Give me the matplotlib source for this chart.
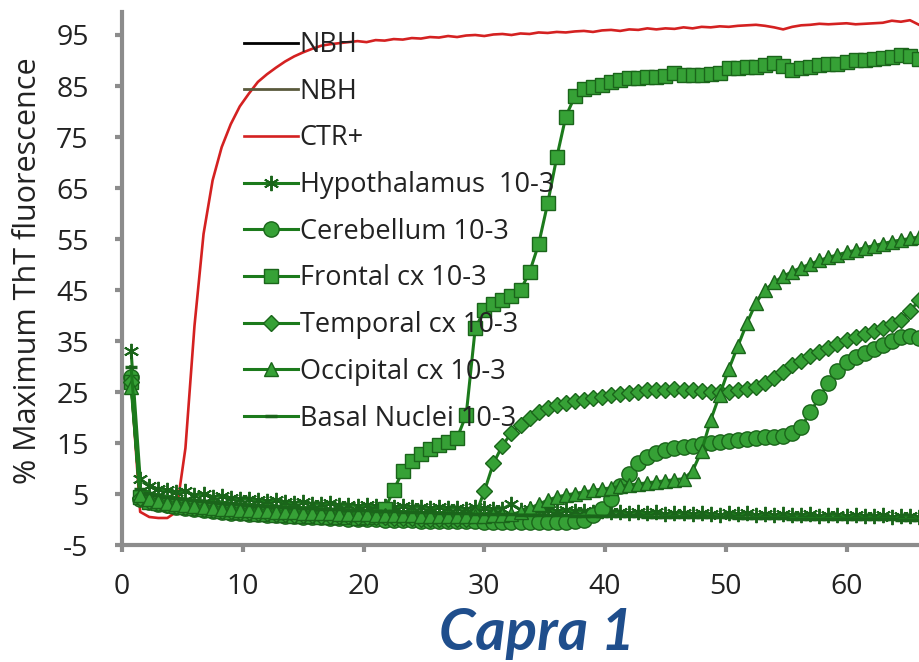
import numpy as np
import matplotlib.pyplot as plt

plt.rcParams['font.family'] = ['Open Sans', 'DejaVu Sans']
plt.rcParams['axes.unicode_minus'] = False

# time points (hours), one reading every 45 min
time = np.arange(1, 89) * 0.75

nbh_1 = [30, 6.0, 5.2, 4.8, 4.5, 4.2, 4.0, 3.8, 3.6, 3.5,
         3.3, 3.2, 3.0, 2.9, 2.8, 2.7, 2.6, 2.5, 2.4, 2.3,
         2.2, 2.1, 2.0, 2.0, 1.9, 1.8, 1.8, 1.7, 1.6, 1.6,
         1.5, 1.5, 1.4, 1.4, 1.3, 1.3, 1.2, 1.2, 1.1, 1.1,
         1.0, 1.0, 1.0, 0.9, 0.9, 0.9, 0.8, 0.8, 0.8, 0.7,
         0.7, 0.7, 0.7, 0.6, 0.6, 0.6, 0.6, 0.5, 0.5, 0.5,
         0.5, 0.5, 0.4, 0.4, 0.4, 0.4, 0.4, 0.3, 0.3, 0.3,
         0.3, 0.3, 0.3, 0.2, 0.2, 0.2, 0.2, 0.2, 0.2, 0.1,
         0.1, 0.1, 0.1, 0.1, 0.1, 0.0, 0.0, 0.0]
nbh_2 = [30, 6.0, 5.2, 4.8, 4.5, 4.2, 4.0, 3.8, 3.6, 3.5,
         3.3, 3.2, 3.0, 2.9, 2.8, 2.7, 2.6, 2.5, 2.4, 2.3,
         2.2, 2.1, 2.0, 2.0, 1.9, 1.8, 1.8, 1.7, 1.6, 1.6,
         1.5, 1.5, 1.4, 1.4, 1.3, 1.3, 1.2, 1.2, 1.1, 1.1,
         1.0, 1.0, 1.0, 0.9, 0.9, 0.9, 0.8, 0.8, 0.8, 0.7,
         0.7, 0.7, 0.7, 0.6, 0.6, 0.6, 0.6, 0.5, 0.5, 0.5,
         0.5, 0.5, 0.4, 0.4, 0.4, 0.4, 0.4, 0.3, 0.3, 0.3,
         0.3, 0.3, 0.3, 0.2, 0.2, 0.2, 0.2, 0.2, 0.2, 0.1,
         0.1, 0.1, 0.1, 0.1, 0.1, 0.0, 0.0, 0.0]
ctr_pos = [27, 1.5, 0.5, 0.3, 0.3, 1.5, 14, 38, 56, 66.5,
           73, 77.5, 81, 83.5, 85.8, 87.3, 88.6, 89.8, 90.8, 91.6,
           92.3, 92.9, 93.2, 93.4, 93.6, 93.8, 93.6, 94.0, 93.9, 94.2,
           94.1, 94.4, 94.3, 94.6, 94.5, 94.8, 94.6, 94.9, 95.0, 94.8,
           95.1, 95.2, 95.0, 95.3, 95.2, 95.5, 95.4, 95.6, 95.5, 95.7,
           95.8, 95.6, 95.9, 96.0, 95.8, 96.1, 96.0, 96.3, 96.1, 96.3,
           96.2, 96.5, 96.3, 96.6, 96.5, 96.7, 96.6, 96.8, 96.9, 97.0,
           96.8, 96.5, 96.1, 96.6, 96.9, 97.0, 97.2, 97.1, 97.2, 97.3,
           97.1, 97.2, 97.3, 97.4, 97.8, 97.6, 97.9, 97.0]
hypothalamus = [33, 8.0, 6.5, 6.0, 5.8, 5.3, 5.5, 4.8, 5.0, 4.5,
                4.6, 4.2, 4.0, 4.1, 3.8, 3.6, 3.8, 3.4, 3.3, 3.5,
                3.1, 3.0, 3.2, 2.8, 2.9, 2.7, 2.8, 2.6, 2.7, 2.5,
                2.6, 2.4, 2.5, 2.3, 2.4, 2.2, 2.3, 2.1, 2.4, 2.2,
                2.0, 2.1, 3.0, 1.9, 2.0, 1.8, 1.9, 1.7, 1.8, 1.6,
                1.7, 1.5, 1.6, 1.4, 1.5, 1.3, 1.5, 1.2, 1.4, 1.1,
                1.3, 1.2, 1.0, 1.2, 1.1, 0.9, 1.2, 1.0, 1.3, 0.9,
                1.0, 0.8, 1.1, 0.9, 0.8, 1.0, 0.7, 0.9, 0.8, 0.6,
                0.8, 0.7, 0.6, 0.8, 0.5, 0.7, 0.6, 0.5]
cerebellum = [28, 4.0, 3.5, 3.0, 2.8, 2.5, 2.3, 2.0, 1.8, 1.6,
              1.5, 1.3, 1.2, 1.1, 1.0, 0.9, 0.8, 0.7, 0.6, 0.5,
              0.5, 0.4, 0.3, 0.3, 0.2, 0.2, 0.1, 0.1, 0.0, 0.0,
              -0.1, -0.1, -0.2, -0.2, -0.2, -0.3, -0.3, -0.3, -0.3, -0.4,
              -0.4, -0.4, -0.5, -0.5, -0.5, -0.5, -0.5, -0.5, -0.4, -0.3,
              0.0, 0.8, 2.0, 4.0, 6.5, 9.0, 11.0, 12.3, 13.0, 13.6,
              14.0, 14.2, 14.4, 14.8, 15.0, 15.2, 15.4, 15.6, 15.8, 16.0,
              16.1, 16.2, 16.4, 17.0, 18.2, 21.0, 24.0, 26.8, 29.2, 30.8,
              31.8, 32.6, 33.4, 34.2, 35.0, 35.8, 36.0, 35.6]
frontal = [27, 4.5, 3.5, 3.2, 3.0, 2.7, 2.5, 2.2, 2.0, 1.8,
           1.7, 1.5, 1.4, 1.2, 1.1, 1.0, 0.9, 0.8, 0.7, 0.6,
           0.6, 0.5, 0.5, 0.4, 0.4, 0.3, 0.5, 0.8, 2.0, 5.8,
           9.5, 11.5, 12.8, 13.8, 14.6, 15.2, 16.0, 20.5, 37.5, 41.0,
           42.2, 43.0, 43.8, 45.0, 48.5, 54.0, 62.0, 71.0, 79.0, 83.0,
           84.5, 84.8, 85.2, 85.8, 86.2, 86.6, 86.6, 86.8, 86.8, 86.9,
           87.5, 87.2, 87.2, 87.2, 87.3, 87.5, 88.5, 88.5, 88.7, 88.8,
           89.2, 89.5, 88.9, 88.1, 88.5, 88.8, 89.2, 89.3, 89.3, 89.7,
           90.1, 90.1, 90.2, 90.5, 90.6, 91.1, 90.8, 90.3]
temporal = [27, 4.2, 3.6, 3.2, 2.9, 2.6, 2.4, 2.2, 2.0, 1.8,
            1.7, 1.6, 1.5, 1.4, 1.3, 1.2, 1.1, 1.0, 0.9, 0.9,
            0.8, 0.7, 0.7, 0.6, 0.6, 0.5, 0.5, 0.4, 0.4, 0.3,
            0.3, 0.3, 0.2, 0.2, 0.2, 0.1, 0.1, 0.2, 0.8, 5.5,
            11.0, 14.5, 17.0, 18.6, 20.0, 21.0, 21.9, 22.4, 22.8, 23.2,
            23.5, 23.8, 24.1, 24.4, 24.7, 24.9, 25.1, 25.3, 25.4, 25.4,
            25.5, 25.4, 25.3, 25.2, 25.1, 25.0, 25.1, 25.3, 25.6, 26.0,
            26.8, 27.8, 29.0, 30.2, 31.1, 32.0, 32.8, 33.6, 34.5, 35.2,
            35.7, 36.3, 36.9, 37.6, 38.3, 39.2, 40.8, 43.0]
occipital = [26, 4.8, 4.0, 3.6, 3.3, 3.0, 2.8, 2.6, 2.4, 2.2,
             2.1, 2.0, 1.9, 1.8, 1.7, 1.6, 1.5, 1.5, 1.4, 1.3,
             1.3, 1.2, 1.2, 1.1, 1.1, 1.0, 1.0, 0.9, 0.9, 0.8,
             0.8, 0.8, 0.7, 0.7, 0.7, 0.6, 0.6, 0.6, 0.6, 0.7,
             0.8, 0.9, 1.0, 1.5, 2.2, 3.0, 3.8, 4.4, 4.8, 5.1,
             5.4, 5.7, 6.0, 6.2, 6.5, 6.8, 7.0, 7.2, 7.4, 7.6,
             7.8, 8.0, 9.5, 13.5, 19.5, 24.5, 29.5, 34.0, 38.5, 42.5,
             45.0, 46.5, 47.7, 48.6, 49.4, 50.1, 50.8, 51.4, 51.9, 52.4,
             52.8, 53.3, 53.7, 54.1, 54.5, 54.8, 55.1, 55.4]
basal = [30, 6.0, 5.2, 4.8, 4.5, 4.2, 4.0, 3.8, 3.6, 3.5,
         3.3, 3.2, 3.0, 2.9, 2.8, 2.7, 2.6, 2.5, 2.4, 2.3,
         2.2, 2.1, 2.0, 2.0, 1.9, 1.8, 1.8, 1.7, 1.6, 1.6,
         1.5, 1.5, 1.4, 1.4, 1.3, 1.3, 1.2, 1.2, 1.1, 1.1,
         1.0, 1.0, 1.0, 0.9, 0.9, 0.9, 0.8, 0.8, 0.8, 0.7,
         0.7, 0.7, 0.7, 0.6, 0.6, 0.6, 0.6, 0.5, 0.5, 0.5,
         0.5, 0.5, 0.4, 0.4, 0.4, 0.4, 0.4, 0.3, 0.3, 0.3,
         0.3, 0.3, 0.3, 0.2, 0.2, 0.2, 0.2, 0.2, 0.2, 0.1,
         0.1, 0.1, 0.1, 0.1, 0.1, 0.0, 0.0, 0.0]

x_ticks = [0, 10, 20, 30, 40, 50, 60]
y_ticks = [-5, 5, 15, 25, 35, 45, 55, 65, 75, 85, 95]

line_green = '#1c7a1c'
face_green = '#36a136'
edge_green = '#1a651a'
grey = '#8c8c8c'
text_col = '#222222'

fig = plt.figure(figsize=(9.19, 6.62), dpi=100)
ax = fig.add_axes([0.1328, 0.1767, 0.8672, 0.8051])

ax.plot(time, nbh_1, color='black', lw=2, label='NBH', zorder=1)
ax.plot(time, nbh_2, color='#5a5a3c', lw=2, label='NBH', zorder=1)
ax.plot(time, ctr_pos, color='#d42121', lw=1.9, label='CTR+', zorder=2)

green_series = [
    (hypothalamus, (6, 2, 0), 11, 1.4, 'Hypothalamus  10-3'),
    (cerebellum, 'o', 11, 1.0, 'Cerebellum 10-3'),
    (frontal, 's', 10.5, 1.0, 'Frontal cx 10-3'),
    (temporal, 'D', 8, 1.0, 'Temporal cx 10-3'),
    (occipital, '^', 10.5, 1.0, 'Occipital cx 10-3'),
    (basal, '_', 9, 2.5, 'Basal Nuclei 10-3'),
]
for vals, mk, ms, mw, lab in green_series:
    ax.plot(time, vals, color=line_green, lw=2.2, marker=mk, ms=ms,
            mfc=face_green, mec=edge_green, mew=mw, label=lab, zorder=3)

ax.set_xlim(0, 66)
ax.set_ylim(-5, 99.5)
ax.set_xticks(x_ticks)
ax.set_yticks(y_ticks)
ax.tick_params(axis='both', colors=grey, width=3, length=5, labelsize=20.5,
               labelcolor=text_col)
ax.tick_params(axis='x', pad=15)
ax.tick_params(axis='y', pad=19)
for s in ['top', 'right']:
    ax.spines[s].set_visible(False)
for s in ['left', 'bottom']:
    ax.spines[s].set_color(grey)
    ax.spines[s].set_linewidth(3)

ax.set_ylabel('% Maximum ThT fluorescence', fontsize=22, color=text_col)
ax.yaxis.set_label_coords(-0.099, 0.515)

leg = ax.legend(loc='upper left', bbox_to_anchor=(244 / 919, 1 - 31 / 662),
                bbox_transform=fig.transFigure, frameon=False, fontsize=19.5,
                handlelength=2.0, handletextpad=0.05, labelspacing=0.69,
                borderpad=0, borderaxespad=0)
for t in leg.get_texts():
    t.set_color(text_col)

fig.text(537 / 919, 1 - 650 / 662, 'Capra 1', fontsize=42, fontweight='bold',
         fontstyle='italic', color='#1f4e8c', ha='center', va='baseline',
         family=['Lato', 'DejaVu Sans'])

fig.savefig('out.png', dpi=100)
